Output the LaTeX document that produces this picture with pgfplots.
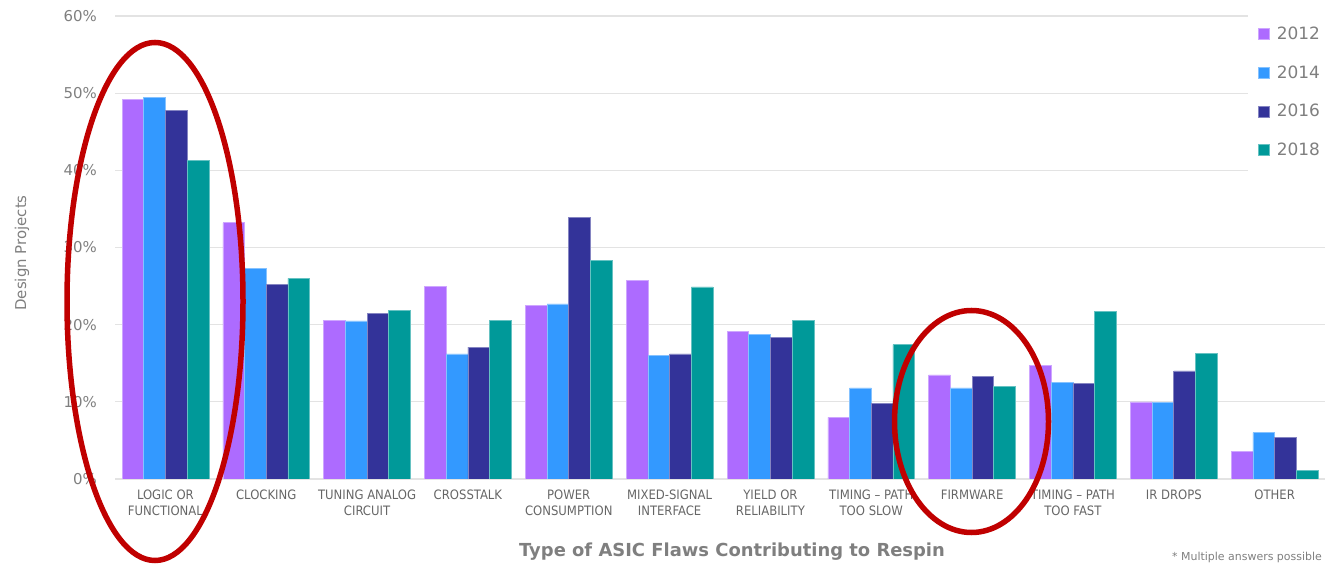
\documentclass[border=0pt]{standalone}
\usepackage{fontspec}
\setmainfont{DejaVu Sans}
\newfontfamily\condfont{DejaVu Sans Condensed}
\usepackage{pgfplots}
\pgfplotsset{compat=1.18}
\definecolor{c12}{HTML}{AD6BFF}
\definecolor{c14}{HTML}{3399FF}
\definecolor{c16}{HTML}{333399}
\definecolor{c18}{HTML}{009999}
\definecolor{gridc}{HTML}{E3E3E3}
\definecolor{txt}{HTML}{7F7F7F}
\definecolor{xtxt}{HTML}{666666}
\definecolor{ered}{HTML}{C00000}
\begin{document}
\begin{tikzpicture}[x=1bp,y=1bp]
\clip (0,0) rectangle (1325,565);
\begin{axis}[
  at={(115bp,86bp)}, anchor=south west,
  scale only axis, width=1210bp, height=463bp,
  ybar=0pt, bar width=21.7bp,
  xmin=-0.5, xmax=11.5, ymin=0, ymax=60,
  xtick={0,...,11},
  xticklabels={{LOGIC OR\\FUNCTIONAL},{CLOCKING},{TUNING ANALOG\\CIRCUIT},{CROSSTALK},{POWER\\CONSUMPTION},{MIXED-SIGNAL\\INTERFACE},{YIELD OR\\RELIABILITY},{TIMING – PATH\\TOO SLOW},{FIRMWARE},{TIMING – PATH\\TOO FAST},{IR DROPS},{OTHER}},
  ytick={0,10,...,60},
  yticklabel={\pgfmathprintnumber{\tick}\%},
  /pgf/number format/assume math mode=true,
  major tick length=0pt,
  axis line style={draw=none},
  ymajorgrids, grid style={gridc, line width=1.2bp},
  yticklabel style={inner sep=0pt, anchor=east, xshift=-18bp, font=\fontsize{15}{18}\selectfont, text=txt},
  xticklabel style={inner sep=0pt, anchor=north, yshift=-11bp, align=center, font=\condfont\fontsize{13}{16}\selectfont, text=xtxt},
  legend style={at={(0.9364,1.0086)}, anchor=north west, fill=white, draw=none,
    inner xsep=10bp, inner ysep=15bp, row sep=24.5bp,
    font=\fontsize{17}{20}\selectfont, text=txt,
    nodes={inner sep=0pt}},
  legend cell align=left,
  legend image code/.code={\fill[#1] (0bp,-5.5bp) rectangle (11bp,5.5bp); \path (18bp,0bp);},
]
\addplot[fill=c12, draw=c12!60!white, line width=0.6bp] coordinates {(0,49.2) (1,33.2) (2,20.6) (3,25.0) (4,22.5) (5,25.7) (6,19.1) (7,8.0) (8,13.5) (9,14.7) (10,10.0) (11,3.6)};
\addplot[fill=c14, draw=c14!60!white, line width=0.6bp] coordinates {(0,49.4) (1,27.3) (2,20.5) (3,16.2) (4,22.7) (5,16.0) (6,18.7) (7,11.8) (8,11.8) (9,12.5) (10,9.9) (11,6.0)};
\addplot[fill=c16, draw=c16!60!white, line width=0.6bp] coordinates {(0,47.8) (1,25.2) (2,21.5) (3,17.1) (4,33.9) (5,16.2) (6,18.3) (7,9.8) (8,13.3) (9,12.4) (10,14.0) (11,5.4)};
\addplot[fill=c18, draw=c18!60!white, line width=0.6bp] coordinates {(0,41.3) (1,26.0) (2,21.8) (3,20.6) (4,28.3) (5,24.9) (6,20.6) (7,17.4) (8,12.0) (9,21.7) (10,16.3) (11,1.1)};
\legend{2012,2014,2016,2018}
\end{axis}
\node[rotate=90, font=\fontsize{15}{18}\selectfont, text=txt] at (22,312) {Design Projects};
\node[anchor=base, font=\bfseries\fontsize{18}{21}\selectfont, text=txt] at (732,8) {Type of ASIC Flaws Contributing to Respin};
\node[anchor=base east, inner sep=0pt, font=\fontsize{11}{13}\selectfont, text=txt] at (1322,4) {* Multiple answers possible};
\draw[ered, line width=5.5bp] (155,263.5) ellipse [x radius=88bp, y radius=259bp];
\draw[ered, line width=5.5bp] (971.5,143.5) ellipse [x radius=77bp, y radius=111bp];
\end{tikzpicture}
\end{document}
